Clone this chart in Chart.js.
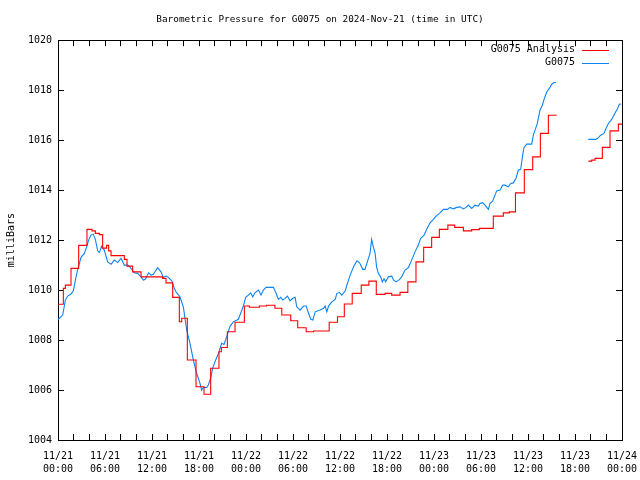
<!DOCTYPE html>
<html>
<head>
<meta charset="utf-8">
<script src="https://cdn.jsdelivr.net/npm/chart.js@4.4.1/dist/chart.umd.min.js"></script>
<style>
  html, body { margin: 0; padding: 0; background: #fff; }
  #wrap { width: 640px; height: 480px; position: relative; }
</style>
</head>
<body>
<div id="wrap"><canvas id="c"></canvas></div>
<script>
// ---- data (hours since 2024-11-21 00:00 UTC) ----
const blueHours = [0,0.6,0.94,1.23,1.66,1.96,2.3,2.5,2.94,3.36,3.66,3.91,4.2,4.5,4.77,5.06,5.28,5.57,5.91,6.34,6.77,7.19,7.62,8.04,8.47,8.9,9.32,9.74,10.17,10.6,10.9,11.15,11.57,11.87,12.17,12.72,13.15,13.45,13.79,14.13,14.55,14.85,15.06,15.57,16.0,16.43,16.85,17.28,17.7,18.13,18.34,18.55,18.98,19.19,19.49,19.74,20.04,20.47,20.89,21.19,21.53,21.96,22.38,23.02,23.32,23.66,23.96,24.3,24.6,24.86,25.15,25.58,25.92,26.22,26.56,27.5,27.84,28.14,28.44,28.7,28.99,29.29,29.63,29.97,30.27,30.48,30.91,31.34,31.68,31.98,32.28,32.53,32.83,33.47,33.9,34.11,34.32,34.54,34.96,35.39,35.6,35.94,36.24,36.67,36.88,37.3,37.73,38.16,38.5,38.9,39.19,39.49,39.83,40.04,40.25,40.47,40.68,40.89,41.19,41.4,41.62,41.83,42.17,42.6,42.81,43.15,43.58,43.87,44.3,44.73,45.15,45.58,46.0,46.3,46.73,47.07,47.5,47.84,48.26,48.77,49.2,49.71,50.05,50.47,50.9,51.32,51.75,52.09,52.39,52.81,53.24,53.66,53.87,54.21,54.51,54.94,55.15,55.49,55.79,56.0,56.43,56.77,57.07,57.49,57.79,58.13,58.47,58.77,59.07,59.32,59.49,59.83,60.47,60.68,60.9,61.19,61.53,61.83,62.09,62.39,62.73,63.03,63.32,63.58,65.5,67.7,68.68,68.98,69.28,69.7,69.96,70.26,70.68,71.11,71.41,71.66,71.9];
const bluePressure = [1008.82,1009.0,1009.6,1009.76,1009.84,1009.97,1010.53,1010.8,1011.31,1011.47,1011.73,1012.0,1012.2,1012.24,1012.03,1011.57,1011.5,1011.76,1011.6,1011.13,1011.03,1011.2,1011.1,1011.27,1011.0,1011.0,1010.87,1010.69,1010.67,1010.53,1010.4,1010.43,1010.69,1010.6,1010.63,1010.9,1010.73,1010.5,1010.56,1010.5,1010.36,1010.07,1009.93,1009.73,1009.33,1008.4,1007.87,1007.2,1006.67,1006.27,1006.0,1006.1,1006.1,1006.2,1006.47,1006.87,1007.13,1007.45,1007.87,1007.82,1008.13,1008.55,1008.73,1008.83,1009.07,1009.36,1009.71,1009.8,1009.89,1009.73,1009.89,1010.0,1009.8,1010.0,1010.11,1010.11,1009.87,1009.63,1009.71,1009.6,1009.67,1009.76,1009.57,1009.67,1009.71,1009.33,1009.2,1009.36,1009.36,1009.07,1008.83,1008.8,1009.13,1009.2,1009.27,1009.36,1009.13,1009.36,1009.53,1009.63,1009.87,1009.9,1009.8,1009.97,1010.2,1010.6,1010.93,1011.17,1011.09,1010.83,1010.83,1011.13,1011.47,1012.03,1011.73,1011.5,1010.91,1010.67,1010.53,1010.33,1010.45,1010.33,1010.53,1010.56,1010.42,1010.33,1010.42,1010.53,1010.8,1010.9,1011.2,1011.53,1011.8,1012.07,1012.2,1012.43,1012.69,1012.8,1012.96,1013.09,1013.23,1013.23,1013.31,1013.25,1013.31,1013.33,1013.25,1013.31,1013.4,1013.27,1013.4,1013.36,1013.47,1013.5,1013.4,1013.23,1013.47,1013.56,1013.8,1013.97,1014.0,1014.2,1014.2,1014.13,1014.27,1014.29,1014.47,1014.8,1014.84,1015.4,1015.71,1015.84,1015.84,1016.2,1016.4,1016.67,1017.2,1017.4,1017.67,1017.93,1018.07,1018.24,1018.31,1018.31,null,1016.03,1016.03,1016.1,1016.2,1016.27,1016.47,1016.67,1016.83,1017.09,1017.25,1017.44,1017.45];

const analysisHours = [0,0.68,0.94,1.66,2.64,3.7,4.34,4.77,5.28,5.7,6.21,6.47,6.77,8.47,8.81,9.53,10.6,13.36,13.79,14.64,15.49,15.79,16.51,17.62,18.64,19.49,20.55,20.85,21.62,22.6,23.79,24.43,25.7,26.63,27.69,28.57,29.71,30.6,31.68,32.62,34.62,35.68,36.55,37.56,38.71,39.69,40.63,41.75,42.6,43.66,44.66,45.7,46.68,47.7,48.68,49.77,50.64,51.75,52.81,53.79,55.57,56.85,57.62,58.4,59.53,60.6,61.58,62.6,63.58,65.5,67.7,68.13,68.56,69.49,70.47,71.53,72];
const analysisPressure = [1009.43,1010.07,1010.2,1010.87,1011.79,1012.43,1012.37,1012.27,1012.22,1011.68,1011.79,1011.57,1011.38,1011.23,1010.96,1010.73,1010.53,1010.47,1010.29,1009.71,1008.73,1008.87,1007.2,1006.13,1005.83,1006.87,1007.53,1007.7,1008.33,1008.71,1009.36,1009.31,1009.36,1009.39,1009.27,1009.0,1008.77,1008.49,1008.33,1008.36,1008.71,1008.93,1009.44,1009.87,1010.2,1010.36,1009.83,1009.87,1009.8,1009.91,1010.33,1011.13,1011.71,1012.11,1012.43,1012.6,1012.51,1012.37,1012.42,1012.47,1012.96,1013.09,1013.13,1013.89,1014.82,1015.33,1016.27,1017.0,1017.02,null,1015.16,1015.2,1015.27,1015.71,1016.37,1016.64,1016.64];

const tickDates = ['11/21','11/21','11/21','11/21','11/22','11/22','11/22','11/22','11/23','11/23','11/23','11/23','11/24'];
const tickTimes = ['00:00','06:00','12:00','18:00','00:00','06:00','12:00','18:00','00:00','06:00','12:00','18:00','00:00'];
const seriesNames = ['G0075 Analysis', 'G0075'];
const titleText = 'Barometric Pressure for G0075 on 2024-Nov-21 (time in UTC)';
const yAxisLabel = 'milliBars';

// ---- chart ----
const FONT = 'DejaVu Sans Mono';
const pts = (xs, ys) => xs.map((x, i) => ({ x: x, y: ys[i] }));

const gnuLegend = {
  id: 'gnuLegend',
  afterDatasetsDraw(chart) {
    const ctx = chart.ctx, a = chart.chartArea;
    ctx.save();
    ctx.font = '10px "' + FONT + '"';
    ctx.textAlign = 'right';
    ctx.textBaseline = 'middle';
    chart.data.datasets.forEach((ds, i) => {
      const y = a.top + 9.5 + i * 13;
      ctx.fillStyle = '#000';
      ctx.fillText(ds.label, a.right - 47, y);
      ctx.strokeStyle = ds.borderColor;
      ctx.lineWidth = 1;
      ctx.beginPath();
      ctx.moveTo(a.right - 40, Math.round(y) + 0.5);
      ctx.lineTo(a.right - 13, Math.round(y) + 0.5);
      ctx.stroke();
    });
    ctx.restore();
  }
};

const tickGrid = { display: true, drawOnChartArea: false, drawTicks: true, tickLength: -6, color: '#000', lineWidth: 1 };
const border = { display: true, color: '#000', width: 1 };
const noPad = (s) => { s.paddingLeft = 0; s.paddingRight = 0; s.paddingTop = 0; s.paddingBottom = 0; };

new Chart(document.getElementById('c'), {
  type: 'line',
  data: {
    datasets: [
      { label: seriesNames[0], data: pts(analysisHours, analysisPressure), borderColor: '#ff0000', backgroundColor: '#ff0000', borderWidth: 1.1, pointRadius: 0, stepped: true, spanGaps: false, xAxisID: 'x', yAxisID: 'y' },
      { label: seriesNames[1], data: pts(blueHours, bluePressure), borderColor: '#0a84f5', backgroundColor: '#0a84f5', borderWidth: 1.1, pointRadius: 0, tension: 0, spanGaps: false, xAxisID: 'x', yAxisID: 'y' }
    ]
  },
  options: {
    responsive: true,
    maintainAspectRatio: false,
    animation: false,
    layout: { padding: 0 },
    plugins: {
      legend: { display: false },
      tooltip: { enabled: false },
      title: { display: true, text: titleText, color: '#000', font: { family: FONT, size: 9.4, weight: 'normal', lineHeight: 1.3 }, padding: { top: 13, bottom: 15 } }
    },
    scales: {
      x: {
        type: 'linear', position: 'bottom', min: 0, max: 72,
        grid: tickGrid, border: border,
        ticks: {
          stepSize: 2, autoSkip: false, maxRotation: 0, color: '#000', padding: 16,
          font: { family: FONT, size: 10, lineHeight: 1.3 },
          callback: (v) => (v % 6 === 0 ? [tickDates[v / 6], tickTimes[v / 6]] : '')
        },
        afterFit: (s) => { s.height = 40; noPad(s); }
      },
      x2: {
        type: 'linear', position: 'top', min: 0, max: 72,
        grid: tickGrid, border: border,
        ticks: { stepSize: 2, autoSkip: false, display: false },
        afterFit: (s) => { s.height = 0; noPad(s); }
      },
      y: {
        type: 'linear', position: 'left', min: 1004, max: 1020,
        grid: tickGrid, border: border,
        ticks: { stepSize: 2, color: '#000', padding: 12, font: { family: FONT, size: 10 }, callback: (v) => String(v) },
        title: { display: true, text: yAxisLabel, color: '#000', font: { family: FONT, size: 10 }, padding: { top: 5, bottom: 0 } },
        afterFit: (s) => { s.width = 58; noPad(s); }
      },
      y2: {
        type: 'linear', position: 'right', min: 1004, max: 1020,
        grid: tickGrid, border: border,
        ticks: { stepSize: 2, display: false },
        afterFit: (s) => { s.width = 18; noPad(s); }
      }
    }
  },
  plugins: [gnuLegend]
});
</script>
</body>
</html>
